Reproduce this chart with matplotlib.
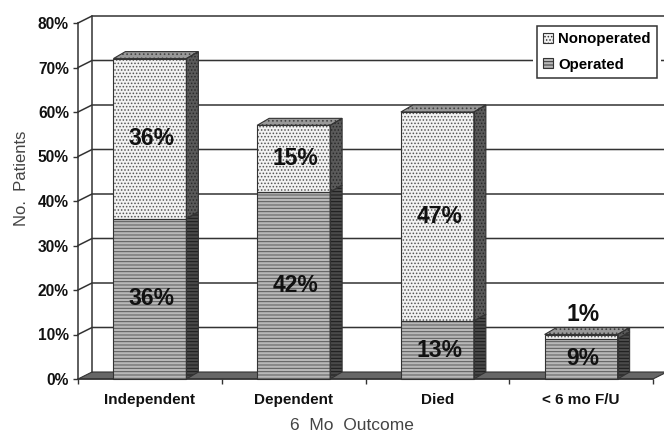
import matplotlib
matplotlib.use("Agg")
import matplotlib.pyplot as plt
from matplotlib.patches import Patch, Polygon, Rectangle

categories = ["Independent", "Dependent", "Died", "< 6 mo F/U"]
operated = [36, 42, 13, 9]
nonoperated = [36, 15, 47, 1]
y_ticks = [0, 10, 20, 30, 40, 50, 60, 70, 80]

W, H = 664, 433
# plot box in pixels, measured from the top left
LEFT, RIGHT, TOP, BOTTOM = 78, 653, 23, 379
X_PX = (RIGHT - LEFT) / len(categories)
Y_PX = (BOTTOM - TOP) / y_ticks[-1]
WALL_DX, WALL_DY = 14 / X_PX, 7 / Y_PX
BAR_DX, BAR_DY = 12 / X_PX, 7 / Y_PX
BAR_W = 73 / X_PX

plt.rcParams["font.family"] = ["Liberation Sans", "DejaVu Sans"]
plt.rcParams["hatch.linewidth"] = 0.7

DARK = "#333333"
TEXT = "#111111"

fig = plt.figure(figsize=(W / 100, H / 100), dpi=100)
ax = fig.add_axes([LEFT / W, 1 - BOTTOM / H, (RIGHT - LEFT) / W, (BOTTOM - TOP) / H])
ax.set_xlim(0, len(categories))
ax.set_ylim(0, y_ticks[-1])
ax.patch.set_visible(False)


def poly(points, face, hatch=None, hatch_color=DARK, z=3):
    ax.add_patch(Polygon(points, closed=True, facecolor=face, edgecolor=hatch_color,
                         hatch=hatch, lw=0, clip_on=False, zorder=z))
    ax.add_patch(Polygon(points, closed=True, fill=False, edgecolor=DARK, lw=0.8,
                         clip_on=False, zorder=z + 0.1))


def block(x0, y0, y1, front, side, hatch, hatch_color, side_hatch_color, top=None):
    x1 = x0 + BAR_W
    poly([(x0, y0), (x1, y0), (x1, y1), (x0, y1)], front, hatch, hatch_color)
    poly([(x1, y0), (x1 + BAR_DX, y0 + BAR_DY), (x1 + BAR_DX, y1 + BAR_DY), (x1, y1)],
         side, hatch, side_hatch_color)
    if top:
        poly([(x0, y1), (x1, y1), (x1 + BAR_DX, y1 + BAR_DY), (x0 + BAR_DX, y1 + BAR_DY)],
             top, "....", "#444444")


# floor and back wall
n = len(categories)
poly([(0, 0), (n, 0), (n + WALL_DX, WALL_DY), (WALL_DX, WALL_DY)], "#666666", z=1)
for t in y_ticks[1:]:
    ax.plot([0, WALL_DX, n + WALL_DX], [t, t + WALL_DY, t + WALL_DY], color=DARK, lw=1.1,
            clip_on=False, zorder=1, solid_joinstyle="miter")
ax.plot([WALL_DX, WALL_DX], [WALL_DY, y_ticks[-1] + WALL_DY], color=DARK, lw=1.1,
        clip_on=False, zorder=1)

for i, name in enumerate(categories):
    x0 = i + 0.5 - BAR_W / 2
    op, non = operated[i], nonoperated[i]
    block(x0, 0, op, "#b8b8b8", "#4a4a4a", "-----", "#585858", "#1a1a1a")
    block(x0, op, op + non, "#f2f2f2", "#5a5a5a", ".....", "#555555", "#2a2a2a", top="#999999")
    cx = i + 0.5 + 2 / X_PX
    ax.text(cx, op / 2, f"{op}%", ha="center", va="center", fontsize=16.5, fontweight="bold",
            color=TEXT, zorder=6)
    # the sliver for the last category is too thin, so its label sits above the bar
    ny = op + non / 2 if non > 5 else op + non + 4.6
    ax.text(cx, ny, f"{non}%", ha="center", va="center", fontsize=16.5, fontweight="bold",
            color=TEXT, zorder=6)

for side in ["top", "right"]:
    ax.spines[side].set_visible(False)
for side in ["left", "bottom"]:
    ax.spines[side].set_color(DARK)
    ax.spines[side].set_linewidth(1.1)
    ax.spines[side].set_zorder(2)

ax.set_yticks(y_ticks)
ax.set_yticklabels([f"{t}%" for t in y_ticks], fontsize=11.2, fontweight="bold", color=TEXT)
ax.tick_params(axis="y", length=3.5, width=1.0, color=DARK, pad=3)
ax.set_xticks(range(n + 1))
ax.set_xticklabels([])
ax.tick_params(axis="x", which="major", length=3.5, width=1.0, color=DARK)
ax.set_xticks([i + 0.5 for i in range(n)], minor=True)
ax.set_xticklabels(categories, minor=True, fontsize=11, fontweight="bold", color=TEXT)
ax.tick_params(axis="x", which="minor", length=0, pad=10)

ax.set_xlabel("6  Mo  Outcome", fontsize=12.5, color="#444444", va="center")
ax.xaxis.set_label_coords((352 - LEFT) / (RIGHT - LEFT), -(426 - BOTTOM) / (BOTTOM - TOP))
ax.set_ylabel("No.  Patients", fontsize=12, color="#444444", va="center")
ax.yaxis.set_label_coords((22 - LEFT) / (RIGHT - LEFT), (BOTTOM - 178) / (BOTTOM - TOP))

# white margin that interrupts the grid lines around the legend
fig.add_artist(Rectangle((533 / W, 1 - 80 / H), 128 / W, 58 / H, transform=fig.transFigure,
                         facecolor="white", edgecolor="none", zorder=4))
handles = [Patch(facecolor="#f2f2f2", edgecolor=DARK, hatch=".....", lw=0.8),
           Patch(facecolor="#b8b8b8", edgecolor=DARK, hatch="-----", lw=0.8)]
leg = fig.legend(handles, ["Nonoperated", "Operated"], loc="upper left",
                 bbox_to_anchor=(537 / W, 1 - 26 / H), borderaxespad=0, fancybox=False,
                 framealpha=1, edgecolor=DARK, prop={"size": 10.8, "weight": "bold"},
                 handlelength=0.65, handleheight=0.65, handletextpad=0.35,
                 borderpad=0.42, labelspacing=0.75)
leg.get_frame().set_linewidth(1.1)
leg.set_zorder(5)

fig.savefig("out.png", dpi=100)
